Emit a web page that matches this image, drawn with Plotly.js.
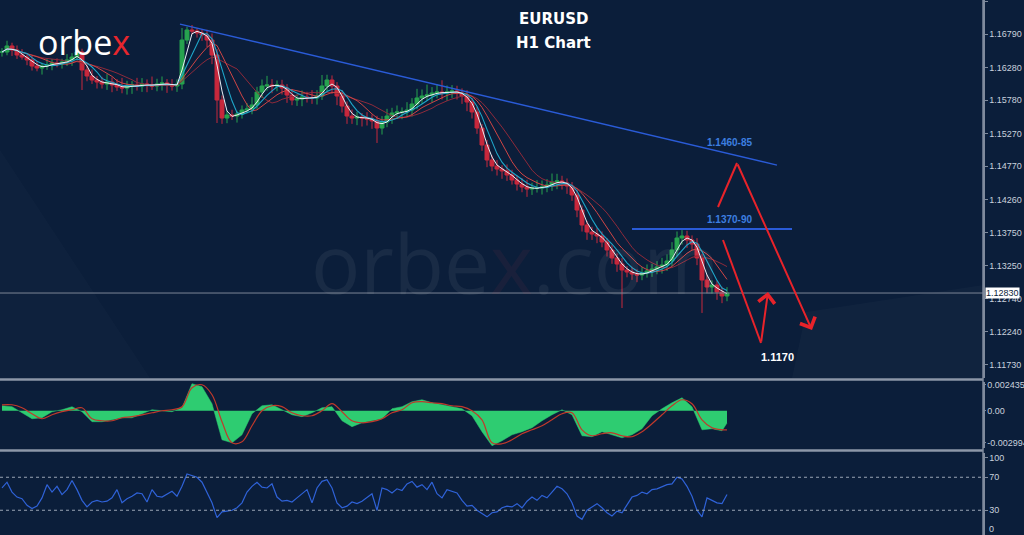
<!DOCTYPE html>
<html><head><meta charset="utf-8">
<script src="https://cdn.plot.ly/plotly-3.0.1.min.js"></script>
<style>html,body{margin:0;padding:0;background:#0b1e3a;overflow:hidden}#chart{width:1024px;height:535px}</style>
</head><body><div id="chart"></div>
<script>
// ---- price (H1 closes) ----
const closes = [
1.16515,1.16607,1.16545,1.16469,1.16438,1.16393,1.16301,1.16270,1.16301,1.16316,
1.16347,1.16331,1.16362,1.16393,1.16438,1.16515,1.16240,1.16148,1.16087,1.16056,
1.16026,1.16056,1.16010,1.15980,1.15964,1.15995,1.16010,1.15995,1.16026,1.16010,
1.15995,1.16026,1.16041,1.16010,1.15995,1.16026,1.16698,1.16851,1.16836,1.16805,
1.16775,1.16698,1.16469,1.15781,1.15506,1.15552,1.15536,1.15567,1.15628,1.15643,
1.15705,1.15903,1.15995,1.16010,1.15995,1.16010,1.15964,1.15857,1.15781,1.15796,
1.15827,1.15812,1.15812,1.15842,1.15995,1.16087,1.15995,1.15842,1.15689,1.15536,
1.15506,1.15521,1.15506,1.15491,1.15460,1.15353,1.15445,1.15536,1.15582,1.15598,
1.15598,1.15628,1.15720,1.15812,1.15842,1.15857,1.15888,1.15903,1.15888,1.15903,
1.15919,1.15888,1.15842,1.15750,1.15598,1.15353,1.15093,1.14864,1.14772,1.14726,
1.14696,1.14634,1.14558,1.14497,1.14451,1.14420,1.14436,1.14436,1.14451,1.14482,
1.14527,1.14543,1.14512,1.14466,1.14329,1.14099,1.13870,1.13763,1.13732,1.13702,
1.13610,1.13488,1.13366,1.13274,1.13182,1.13151,1.13121,1.13106,1.13136,1.13167,
1.13197,1.13228,1.13258,1.13320,1.13488,1.13671,1.13702,1.13641,1.13579,1.13366,
1.13029,1.12922,1.12953,1.12846,1.12785,1.12830];
// upper / lower wick beyond the body, in pips (estimated band thickness)
const wickUpPips = [
6,8,5,7,9,4,6,8,5,10,6,7,5,9,6,8,
5,7,10,6,8,12,7,9,14,8,6,11,9,7,13,8,10,6,9,7,
6,5,7,4,6,8,10,9,7,6,8,5,7,9,12,8,10,14,9,7,
8,6,9,7,10,8,12,9,14,8,7,6,9,7,10,8,6,9,7,8,
9,11,8,10,7,12,9,14,10,16,9,12,18,10,9,8,7,9,6,8,
6,8,7,9,6,10,8,7,9,11,8,12,10,9,13,11,8,7,6,8,
7,6,8,9,7,6,8,7,9,6,8,7,9,10,8,9,11,10,12,10,
9,8,7,9,6,8,7,6,8,9];
const wickDnPips = [
7,5,9,6,4,8,7,5,10,6,8,5,7,6,9,5,
12,8,6,10,7,9,11,6,8,10,12,7,9,11,6,8,10,12,7,9,
8,6,5,7,9,11,14,12,9,8,6,10,7,5,8,6,9,7,11,8,
10,12,8,9,11,7,9,10,6,8,12,14,10,12,9,11,13,10,12,9,
10,8,12,9,11,7,10,8,9,7,11,8,10,12,9,10,12,14,10,9,
9,11,8,10,12,9,7,10,8,12,9,7,10,8,9,11,10,12,9,11,
10,12,9,11,8,10,9,12,10,8,9,11,8,7,9,8,10,9,8,10,
10,12,9,11,8,9,10,12,11,8];
const hiIdx = [36, 38, 64, 135];
const hiVal = [1.16882, 1.16928, 1.16163, 1.13763];
const loIdx = [16, 43, 75, 124, 140];
const loVal = [1.15934, 1.15429, 1.15124, 1.12601, 1.12525];

// ---- MACD (every second bar) ----
const macd = [
0.00047,0.00038,-0.00019,-0.00075,-0.00066,-0.00009,0.00009,0.00038,-0.00009,-0.00103,
-0.00103,-0.00085,-0.00066,-0.00066,-0.00028,0.00009,0.00000,-0.00009,0.00028,0.00254,
0.00226,0.00066,-0.00273,-0.00301,-0.00226,-0.00028,0.00047,0.00056,0.00009,-0.00038,
-0.00056,-0.00019,0.00028,0.00038,-0.00094,-0.00150,-0.00113,-0.00094,-0.00075,0.00019,
0.00038,0.00085,0.00103,0.00075,0.00056,0.00038,0.00019,-0.00047,-0.00197,-0.00329,
-0.00282,-0.00226,-0.00197,-0.00160,-0.00094,-0.00038,0.00009,-0.00038,-0.00235,-0.00244,
-0.00197,-0.00226,-0.00254,-0.00226,-0.00169,-0.00047,0.00019,0.00075,0.00122,0.00038,
-0.00179,-0.00169,-0.00188,-0.00115];
const signal = [
0.00056,0.00056,0.00028,-0.00028,-0.00075,-0.00038,-0.00009,0.00009,0.00028,-0.00075,
-0.00094,-0.00094,-0.00066,-0.00056,-0.00038,-0.00019,0.00000,0.00009,0.00038,0.00216,
0.00244,0.00150,-0.00103,-0.00301,-0.00291,-0.00141,0.00000,0.00047,0.00038,-0.00019,
-0.00047,-0.00047,0.00000,0.00066,-0.00009,-0.00094,-0.00113,-0.00103,-0.00075,-0.00019,
0.00009,0.00075,0.00085,0.00075,0.00066,0.00047,0.00038,0.00000,-0.00085,-0.00301,
-0.00310,-0.00273,-0.00216,-0.00179,-0.00141,-0.00085,-0.00028,-0.00019,-0.00179,-0.00235,
-0.00216,-0.00207,-0.00235,-0.00244,-0.00197,-0.00122,-0.00038,0.00047,0.00103,0.00066,
-0.00085,-0.00160,-0.00179,-0.00179];

// ---- RSI (every bar) ----
const rsi = [
57,64,52,46,44,36,32,35,45,61,52,59,49,55,66,55,42,34,40,42,
40,41,45,55,39,44,47,51,50,40,55,47,46,50,53,47,59,74,72,70,
64,52,39,21,28,29,30,33,39,52,59,64,58,57,62,46,41,42,40,45,
50,55,39,57,65,67,57,39,33,35,40,38,41,45,50,30,57,55,51,56,
54,62,65,58,61,55,64,50,45,55,53,51,42,35,36,30,26,22,27,28,
33,35,34,38,33,41,46,42,48,45,52,59,56,50,39,23,19,30,34,38,
33,27,23,29,27,36,46,48,52,50,55,56,59,61,62,70,68,59,47,30,
22,45,42,39,38,49];

// ---- axis ticks ----
const priceTicks = [1.17290,1.16790,1.16280,1.15780,1.15270,1.14770,1.14260,1.13750,1.13250,1.12740,1.12240,1.11730];
const macdTicks = [0.002435, 0, -0.002994];
const macdTickText = ['0.002435','0.00','-0.002994'];
const rsiTicks = [94, 70, 30];
const rsiTickText = ['100','70','30'];
const rsiBottomLabel = '0';
const lastPrice = 1.12830;

// ---- drawn analysis ----
const trendX = [35.6, 155];
const trendY = [1.16943, 1.14787];
const zoneX = [126, 158];
const zoneY = 1.13809;
const arrowAX = [143.2, 147, 162];
const arrowAY = [1.14145, 1.14818, 1.12265];
const arrowBX = [144.2, 151.8, 153.2];
const arrowBY = [1.13641, 1.12066, 1.12846];

// ---- build ----
const PIP = 0.0001;
const n = closes.length;
const idx = closes.map((_, i) => i);
const opens = closes.map((c, i) => i === 0 ? c : closes[i - 1]);
const highs = closes.map((c, i) => Math.max(c, opens[i]) + wickUpPips[i] * PIP);
const lows = closes.map((c, i) => Math.min(c, opens[i]) - wickDnPips[i] * PIP);
hiIdx.forEach((k, j) => { highs[k] = Math.max(highs[k], hiVal[j]); });
loIdx.forEach((k, j) => { lows[k] = Math.min(lows[k], loVal[j]); });

function sma(arr, p) {
  return arr.map((_, i) => {
    const s = Math.max(0, i - p + 1);
    let t = 0; for (let k = s; k <= i; k++) t += arr[k];
    return t / (i - s + 1);
  });
}
const macdX = macd.map((_, k) => k < macd.length - 1 ? 2 * k : n - 1);

const W = 983, H = 535;
const px = x => x / W;
const py = y => 1 - y / H;

const axisCol = '#7f8a9c';
const tickFont = {family: 'Liberation Sans, Arial, sans-serif', size: 9, color: '#c9d1dd'};
const baseY = {side: 'right', showgrid: false, zeroline: false, showline: true, linecolor: axisCol,
  linewidth: 1.5, ticks: 'outside', ticklen: 3, tickcolor: axisCol, tickfont: tickFont, fixedrange: true};

const traces = [
  {type: 'candlestick', x: idx, open: opens, high: highs, low: lows, close: closes,
   xaxis: 'x', yaxis: 'y', whiskerwidth: 0, hoverinfo: 'skip',
   increasing: {line: {color: '#27a34f', width: 1}, fillcolor: '#27a34f'},
   decreasing: {line: {color: '#c8283c', width: 1}, fillcolor: '#c8283c'}},
  {type: 'scatter', mode: 'lines', x: idx, y: sma(closes, 12), line: {color: '#8e2a3a', width: 1}, yaxis: 'y'},
  {type: 'scatter', mode: 'lines', x: idx, y: sma(closes, 8), line: {color: '#d04545', width: 1}, yaxis: 'y'},
  {type: 'scatter', mode: 'lines', x: idx, y: sma(closes, 5), line: {color: '#1fa6c9', width: 1.1}, yaxis: 'y'},
  {type: 'scatter', mode: 'lines', x: idx, y: sma(closes, 3), line: {color: '#e8eef5', width: 1}, yaxis: 'y'},
  {type: 'scatter', mode: 'lines', x: trendX, y: trendY, line: {color: '#2a5bd7', width: 1.3}, yaxis: 'y'},
  {type: 'scatter', mode: 'lines', x: zoneX, y: [zoneY, zoneY], line: {color: '#2a5bd7', width: 2}, yaxis: 'y'},
  {type: 'scatter', mode: 'lines', x: macdX, y: macd, fill: 'tozeroy', fillcolor: '#2ecc71',
   line: {color: '#2ecc71', width: 0.5, shape: 'linear'}, yaxis: 'y2'},
  {type: 'scatter', mode: 'lines', x: macdX, y: signal, line: {color: '#c0392b', width: 1.2, shape: 'spline'}, yaxis: 'y2'},
  {type: 'scatter', mode: 'lines', x: idx, y: rsi, line: {color: '#2f62d8', width: 1.2}, yaxis: 'y3'}
];

const red = '#e8232a';
const shapes = [
  // faint decorative background panels
  {type: 'path', xref: 'paper', yref: 'paper', layer: 'below', line: {width: 0}, fillcolor: 'rgba(255,255,255,0.025)',
   path: `M${px(792)},${py(378)} L${px(806)},${py(312)} L${px(983)},${py(285)} L${px(983)},${py(378)} Z`},
  {type: 'path', xref: 'paper', yref: 'paper', layer: 'below', line: {width: 0}, fillcolor: 'rgba(255,255,255,0.015)',
   path: `M${px(0)},${py(150)} L${px(0)},${py(378)} L${px(150)},${py(378)} Z`},
  {type: 'line', xref: 'paper', yref: 'y', x0: 0, x1: 1, y0: lastPrice, y1: lastPrice, line: {color: '#7d8696', width: 1}},
  {type: 'line', xref: 'paper', yref: 'y3', x0: 0, x1: 1, y0: 70, y1: 70, line: {color: '#9aa5b5', width: 1, dash: 'dot'}},
  {type: 'line', xref: 'paper', yref: 'y3', x0: 0, x1: 1, y0: 30, y1: 30, line: {color: '#9aa5b5', width: 1, dash: 'dot'}},
  {type: 'line', xref: 'paper', yref: 'paper', x0: 0, x1: 1, y0: py(379.5), y1: py(379.5), line: {color: '#8d97a8', width: 2.5}},
  {type: 'line', xref: 'paper', yref: 'paper', x0: 0, x1: 1, y0: py(450.5), y1: py(450.5), line: {color: '#8d97a8', width: 2.5}},
  {type: 'line', xref: 'paper', yref: 'paper', x0: 1, x1: 1, y0: 0, y1: 1, line: {color: axisCol, width: 1.5}},
  {type: 'path', xref: 'x', yref: 'y', path: `M${arrowAX[0]},${arrowAY[0]} L${arrowAX[1]},${arrowAY[1]}`, line: {color: red, width: 2}},
  {type: 'path', xref: 'x', yref: 'y', path: `M${arrowBX[0]},${arrowBY[0]} L${arrowBX[1]},${arrowBY[1]}`, line: {color: red, width: 2}}
];

const C = {xanchor: 'center', yanchor: 'middle', showarrow: false, xref: 'paper', yref: 'paper'};
const ann = [
  Object.assign({}, C, {x: px(553), y: py(19), text: '<b>EURUSD</b>', font: {family: 'DejaVu Sans', size: 15, color: '#ffffff'}}),
  Object.assign({}, C, {x: px(553), y: py(43), text: '<b>H1 Chart</b>', font: {family: 'DejaVu Sans', size: 15, color: '#ffffff'}}),
  Object.assign({}, C, {x: px(36), y: py(42), xanchor: 'left', text: 'orbe<span style="color:#e8262d">x</span>',
   font: {family: 'Open Sans', size: 34, color: '#ffffff'}}),
  Object.assign({}, C, {x: px(515), y: py(262), opacity: 0.055, text: 'orbe<span style="color:#ff4a55">x</span>.com',
   font: {family: 'Open Sans', size: 82, color: '#ffffff'}}),
  Object.assign({}, C, {x: px(729), y: py(142), text: '<b>1.1460-85</b>', font: {family: 'Liberation Sans', size: 10, color: '#3d7fe0'}}),
  Object.assign({}, C, {x: px(729), y: py(219), text: '<b>1.1370-90</b>', font: {family: 'Liberation Sans', size: 10, color: '#3d7fe0'}}),
  Object.assign({}, C, {x: px(777), y: py(357), text: '<b>1.1170</b>', font: {family: 'Liberation Sans', size: 11, color: '#ffffff'}}),
  Object.assign({}, C, {x: 1, y: py(529), xanchor: 'left', xshift: 4, text: rsiBottomLabel, font: tickFont}),
  {xref: 'paper', yref: 'y', x: 1, y: lastPrice, xanchor: 'left', yanchor: 'middle', xshift: 2, text: lastPrice.toFixed(5), showarrow: false,
   bgcolor: '#ffffff', borderpad: 0, font: {family: 'Liberation Sans', size: 9, color: '#0b1e3a'}},
  {xref: 'x', yref: 'y', x: arrowAX[2], y: arrowAY[2], axref: 'x', ayref: 'y', ax: arrowAX[1], ay: arrowAY[1], text: '',
   showarrow: true, arrowhead: 4, arrowsize: 1.6, arrowwidth: 2, arrowcolor: red, standoff: 0, startstandoff: 0},
  {xref: 'x', yref: 'y', x: arrowBX[2], y: arrowBY[2], axref: 'x', ayref: 'y', ax: arrowBX[1], ay: arrowBY[1], text: '',
   showarrow: true, arrowhead: 4, arrowsize: 1.6, arrowwidth: 2, arrowcolor: red, standoff: 0, startstandoff: 0}
];

const layout = {
  width: 1024, height: 535, margin: {l: 0, r: 41, t: 0, b: 0},
  paper_bgcolor: '#0b1e3a', plot_bgcolor: '#0b1e3a', showlegend: false, hovermode: false,
  boxgap: 0.12, boxgroupgap: 0.1,
  xaxis: {range: [-0.4, 196.2], visible: false, rangeslider: {visible: false}, fixedrange: true},
  yaxis: Object.assign({}, baseY, {domain: [0.29346, 1], range: [1.11531, 1.17310],
    tickvals: priceTicks, ticktext: priceTicks.map(v => v.toFixed(5))}),
  yaxis2: Object.assign({}, baseY, {domain: [0.1626, 0.2860], range: [-0.0035, 0.0027],
    tickvals: macdTicks, ticktext: macdTickText, ticklen: 1}),
  yaxis3: Object.assign({}, baseY, {domain: [0, 0.1542], range: [0, 100],
    tickvals: rsiTicks, ticktext: rsiTickText}),
  shapes: shapes, annotations: ann
};

Plotly.newPlot('chart', traces, layout, {staticPlot: true, displayModeBar: false});
</script>
</body></html>
